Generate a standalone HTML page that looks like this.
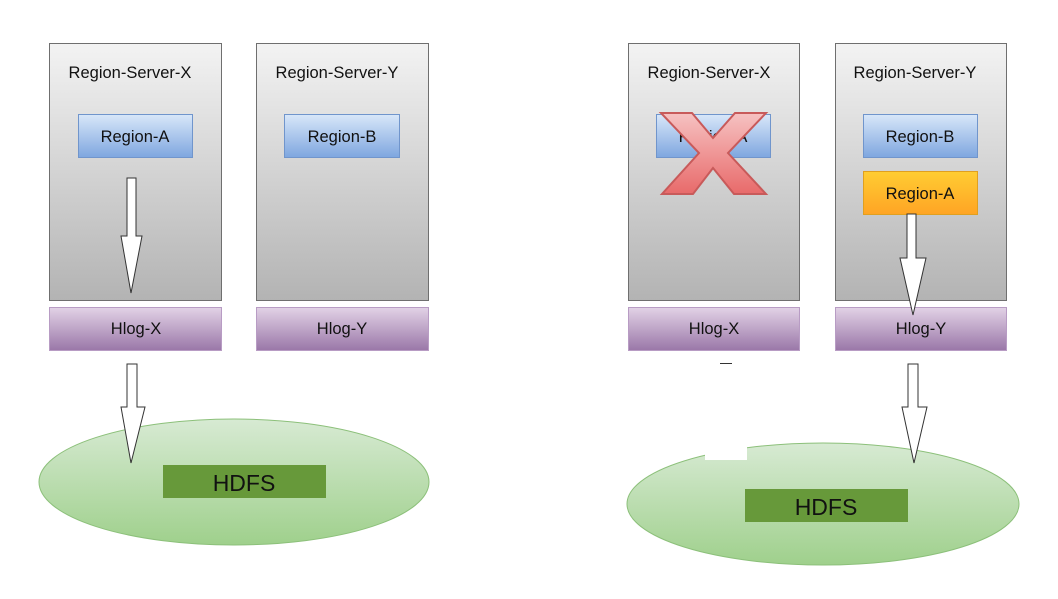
<!DOCTYPE html>
<html><head><meta charset="utf-8"><style>
html,body{margin:0;padding:0;background:#fff;width:1058px;height:599px;overflow:hidden}
svg text{font-family:"Liberation Sans",sans-serif;fill:#111}
</style></head><body>
<svg width="1058" height="599" viewBox="0 0 1058 599" xmlns="http://www.w3.org/2000/svg">
<defs>
<linearGradient id="gr" x1="0" y1="0" x2="0" y2="1"><stop offset="0" stop-color="#f3f3f3"/><stop offset="1" stop-color="#b3b3b3"/></linearGradient>
<linearGradient id="bl" x1="0" y1="0" x2="0" y2="1"><stop offset="0" stop-color="#d8e7f9"/><stop offset="1" stop-color="#7ea6df"/></linearGradient>
<linearGradient id="pu" x1="0" y1="0" x2="0" y2="1"><stop offset="0" stop-color="#e2d2e6"/><stop offset="1" stop-color="#9a77a8"/></linearGradient>
<linearGradient id="or" x1="0" y1="0" x2="0" y2="1"><stop offset="0" stop-color="#ffcd33"/><stop offset="1" stop-color="#ffa424"/></linearGradient>
<linearGradient id="gn" x1="0" y1="0" x2="0" y2="1"><stop offset="0" stop-color="#d7ead3"/><stop offset="1" stop-color="#9fd08c"/></linearGradient>
<linearGradient id="rd" x1="0" y1="0" x2="0" y2="1"><stop offset="0" stop-color="#f6c2c2"/><stop offset="1" stop-color="#e86a6a"/></linearGradient>
</defs>
<g font-size="16.5" text-anchor="middle">
<!-- left -->
<rect x="49.5" y="43.5" width="172" height="257" fill="url(#gr)" stroke="#6f6f6f"/>
<text x="130" y="78">Region-Server-X</text>
<rect x="256.5" y="43.5" width="172" height="257" fill="url(#gr)" stroke="#6f6f6f"/>
<text x="337" y="78">Region-Server-Y</text>
<rect x="78.5" y="114.5" width="114" height="43" fill="url(#bl)" stroke="#7095cc"/>
<text x="135" y="142">Region-A</text>
<rect x="284.5" y="114.5" width="115" height="43" fill="url(#bl)" stroke="#7095cc"/>
<text x="342" y="142">Region-B</text>
<rect x="49.5" y="307.5" width="172" height="43" fill="url(#pu)" stroke="#b89cc4"/>
<text x="136" y="334">Hlog-X</text>
<rect x="256.5" y="307.5" width="172" height="43" fill="url(#pu)" stroke="#b89cc4"/>
<text x="342" y="334">Hlog-Y</text>
<polygon points="127,178 136,178 136,236 142,236 131,293 121,236 127,236" fill="#fff" stroke="#333"/>
<ellipse cx="234" cy="482" rx="195" ry="63" fill="url(#gn)" stroke="#8cc07a"/>
<rect x="163" y="465" width="163" height="33" fill="#67993a"/>
<text x="244" y="491" font-size="23">HDFS</text>
<polygon points="127,364 137,364 137,407 145,407 131,463 121,407 127,407" fill="#fff" stroke="#333"/>
<!-- right -->
<rect x="628.5" y="43.5" width="171" height="257" fill="url(#gr)" stroke="#6f6f6f"/>
<text x="709" y="78">Region-Server-X</text>
<rect x="835.5" y="43.5" width="171" height="257" fill="url(#gr)" stroke="#6f6f6f"/>
<text x="915" y="78">Region-Server-Y</text>
<rect x="656.5" y="114.5" width="114" height="43" fill="url(#bl)" stroke="#7095cc"/>
<text x="713" y="142">Region-A</text>
<polygon points="661,113 692,113 713,138 735,113 766,113 728,153 766,194 734,194 713,168 693,194 662,194 699,153" fill="url(#rd)" stroke="#c85a5a" stroke-width="2"/>
<rect x="863.5" y="114.5" width="114" height="43" fill="url(#bl)" stroke="#7095cc"/>
<text x="920" y="142">Region-B</text>
<rect x="863.5" y="171.5" width="114" height="43" fill="url(#or)" stroke="#e0a020"/>
<text x="920" y="199">Region-A</text>
<rect x="628.5" y="307.5" width="171" height="43" fill="url(#pu)" stroke="#b89cc4"/>
<text x="714" y="334">Hlog-X</text>
<rect x="835.5" y="307.5" width="171" height="43" fill="url(#pu)" stroke="#b89cc4"/>
<text x="921" y="334">Hlog-Y</text>
<polygon points="907,214 916,214 916,258 926,258 913,315 900,258 907,258" fill="#fff" stroke="#333"/>
<line x1="720" y1="363.5" x2="732" y2="363.5" stroke="#333"/>
<ellipse cx="823" cy="504" rx="196" ry="61" fill="url(#gn)" stroke="#8cc07a"/>
<rect x="705" y="446" width="42" height="14" fill="#fff"/>
<rect x="745" y="489" width="163" height="33" fill="#67993a"/>
<text x="826" y="515" font-size="23">HDFS</text>
<polygon points="908,364 918,364 918,407 927,407 914,463 902,407 908,407" fill="#fff" stroke="#333"/>
</g>
</svg>
</body></html>
